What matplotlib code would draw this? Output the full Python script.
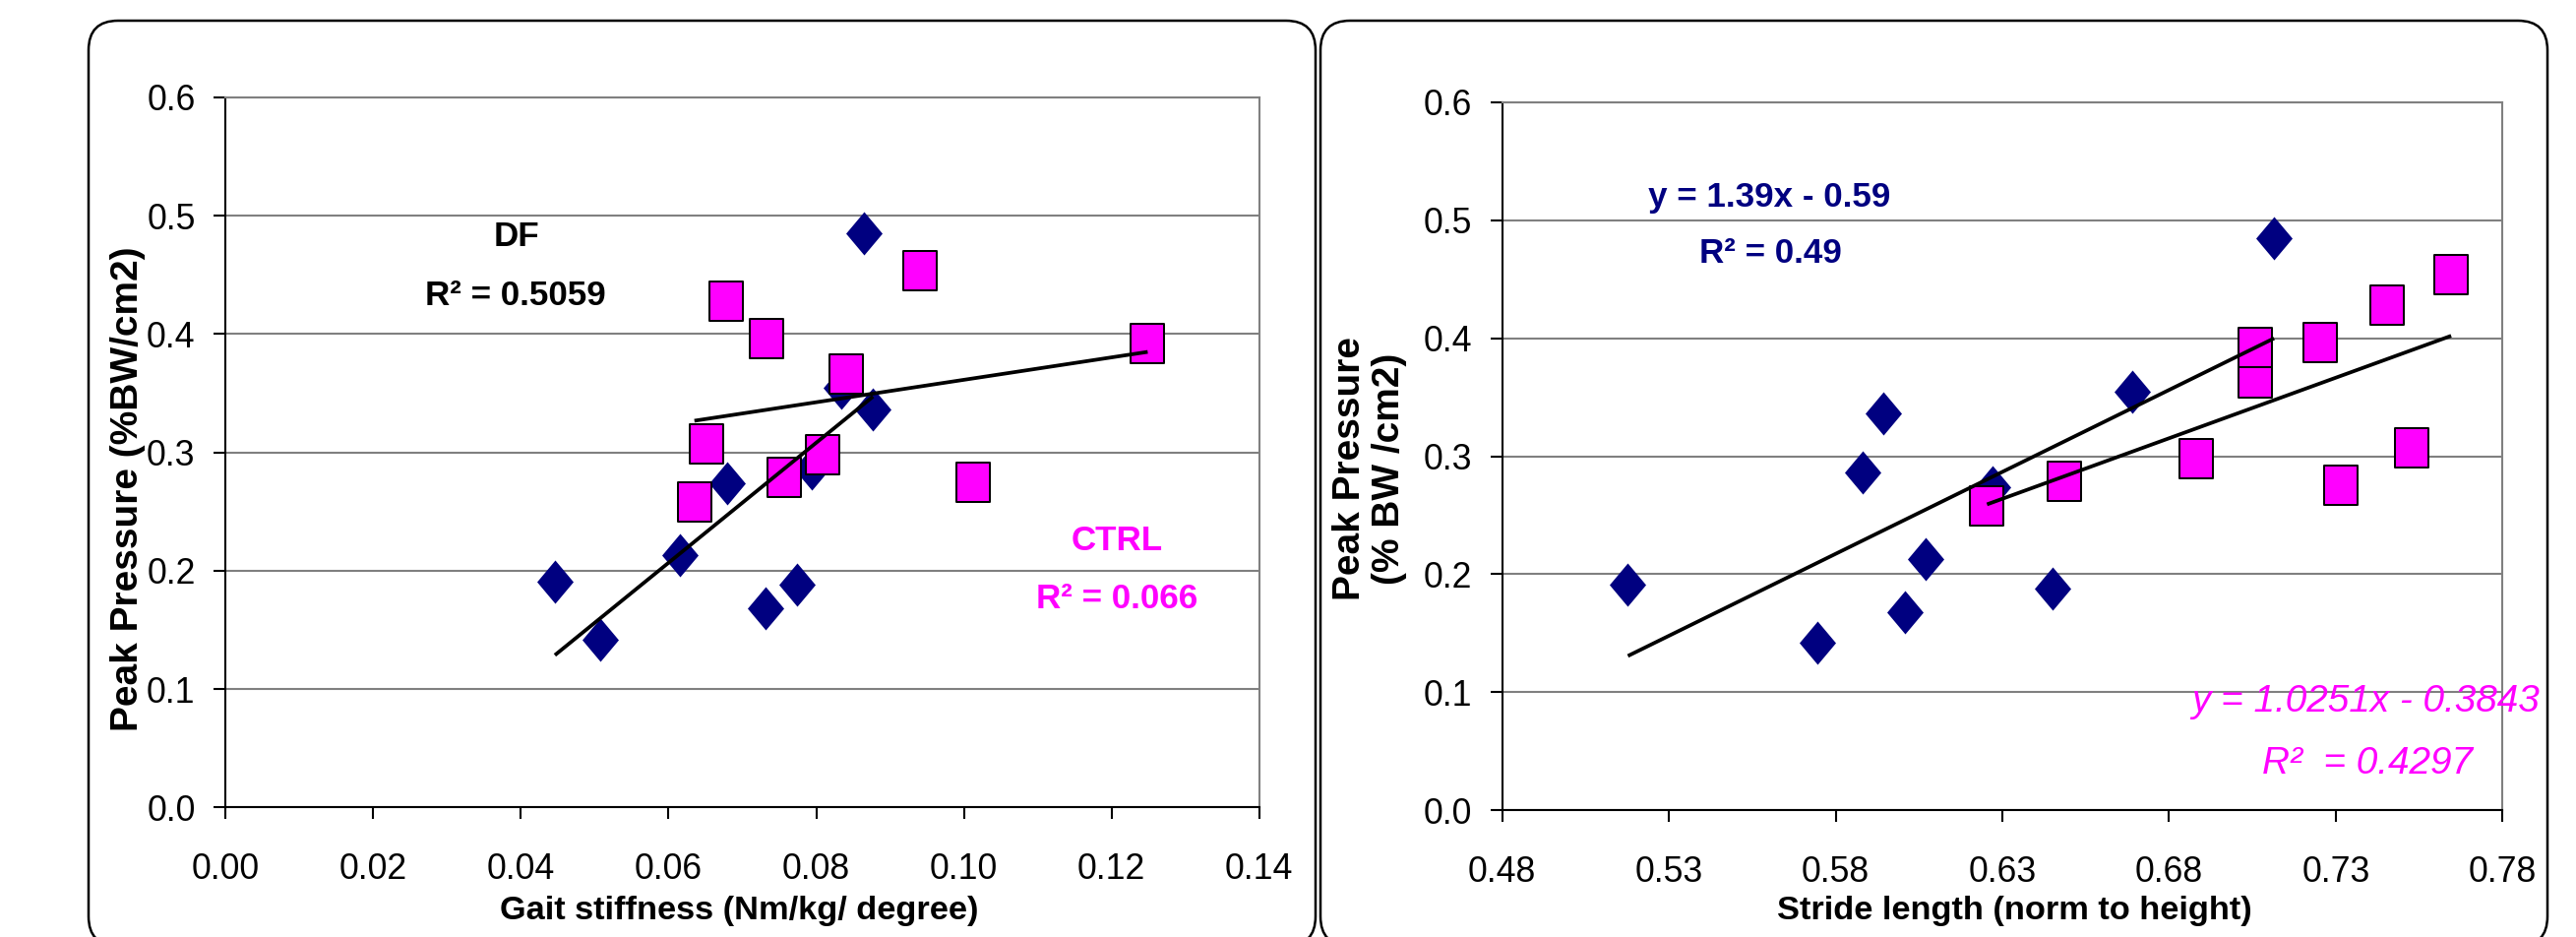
import os
import numpy as np
import matplotlib
matplotlib.use("Agg")
import matplotlib.pyplot as plt
from matplotlib import font_manager as fm
from matplotlib.font_manager import FontProperties
from matplotlib.patches import FancyBboxPatch
from matplotlib.path import Path

# ---------------- data ----------------
df_stiffness = [0.0446, 0.0508, 0.0616, 0.0680, 0.0731, 0.0774, 0.0794, 0.0834, 0.0877, 0.0865]
df_stride = [0.5177, 0.5745, 0.6069, 0.6270, 0.6009, 0.6451, 0.5882, 0.6690, 0.5942, 0.7115]
df_pressure = [0.191, 0.142, 0.213, 0.274, 0.168, 0.188, 0.286, 0.355, 0.336, 0.485]

ctrl_stiffness = [0.0678, 0.0733, 0.0941, 0.0841, 0.1249, 0.0651, 0.0635, 0.0757, 0.0808, 0.1013]
ctrl_stride = [0.7455, 0.7252, 0.7646, 0.7057, 0.7057, 0.7529, 0.6254, 0.6487, 0.6881, 0.7316]
ctrl_pressure = [0.428, 0.396, 0.454, 0.366, 0.392, 0.307, 0.258, 0.279, 0.298, 0.275]

stiff_ticks = [0.00, 0.02, 0.04, 0.06, 0.08, 0.10, 0.12, 0.14]
stride_ticks = [0.48, 0.53, 0.58, 0.63, 0.68, 0.73, 0.78]
pressure_ticks = [0.0, 0.1, 0.2, 0.3, 0.4, 0.5, 0.6]

left_xlabel = "Gait stiffness (Nm/kg/ degree)"
left_ylabel = "Peak Pressure (%BW/cm2)"
right_xlabel = "Stride length (norm to height)"
right_ylabel = "Peak Pressure\n(% BW /cm2)"

# ---------------- fonts ----------------
all_files = {}
for f in fm.fontManager.ttflist:
    all_files.setdefault(os.path.basename(f.fname), f.fname)
try:
    for p in fm.findSystemFonts():
        all_files.setdefault(os.path.basename(p), p)
except Exception:
    pass


def pick(cands):
    for c in cands:
        if c in all_files:
            return all_files[c]
    return None


REG = pick(["LiberationSansNarrow-Regular.ttf", "NotoSans-Condensed.ttf"])
BOLD = pick(["LiberationSansNarrow-Bold.ttf", "NotoSans-CondensedBold.ttf"])
ITAL = pick(["LiberationSansNarrow-Italic.ttf", "NotoSans-CondensedItalic.ttf"])


def fp(kind, size):
    path = {"reg": REG, "bold": BOLD, "ital": ITAL}[kind]
    if path:
        return FontProperties(fname=path, size=size)
    return FontProperties(family=["Liberation Sans", "DejaVu Sans"],
                          weight="bold" if kind == "bold" else "normal",
                          style="italic" if kind == "ital" else "normal",
                          size=size * 0.9)


WIDE_BOLD = FontProperties(family=["Liberation Sans", "DejaVu Sans"], weight="bold", size=28)

NAVY = "#000080"
MAGENTA = "#FF00FF"
GRID = "#808080"

W, H = 2618, 952
fig = plt.figure(figsize=(W / 100, H / 100), dpi=100)

# background (pixel coordinates)
bg = fig.add_axes([0, 0, 1, 1], zorder=0)
bg.set_xlim(0, W)
bg.set_ylim(H, 0)
bg.axis("off")
for x0, x1 in [(90, 1337), (1342, 2589)]:
    bg.add_patch(FancyBboxPatch((x0, 21), x1 - x0, 940,
                                boxstyle="round,pad=0,rounding_size=30",
                                fc="white", ec="black", lw=1.8))


def make_axes(x0, x1, y0, y1):
    ax = fig.add_axes([x0 / W, 1 - y1 / H, (x1 - x0) / W, (y1 - y0) / H], zorder=1)
    ax.patch.set_visible(False)
    ax._px = (x0, x1, y0, y1)
    return ax


def px_text(ax, x, y, s, prop, **kw):
    x0, x1, y0, y1 = ax._px
    ax.text((x - x0) / (x1 - x0), (y1 - y) / (y1 - y0), s, transform=ax.transAxes,
            ha="center", va="baseline", clip_on=False, fontproperties=prop, **kw)


diamond = Path([(0, 0.5), (0.42, 0), (0, -0.5), (-0.42, 0), (0, 0.5)],
               [Path.MOVETO, Path.LINETO, Path.LINETO, Path.LINETO, Path.CLOSEPOLY])
rect = Path([(-0.427, -0.5), (0.427, -0.5), (0.427, 0.5), (-0.427, 0.5), (-0.427, -0.5)],
            [Path.MOVETO, Path.LINETO, Path.LINETO, Path.LINETO, Path.CLOSEPOLY])


def style(ax, xticks, xfmt):
    ax.set_ylim(0, 0.6)
    ax.set_xlim(xticks[0], xticks[-1])
    ax.set_yticks(pressure_ticks)
    ax.set_yticklabels([f"{v:.1f}" for v in pressure_ticks])
    ax.set_xticks(xticks)
    ax.set_xticklabels([xfmt.format(v) for v in xticks])
    ax.grid(axis="y", color=GRID, lw=1.5)
    ax.set_axisbelow(True)
    for s in ["left", "bottom"]:
        ax.spines[s].set_color("black")
        ax.spines[s].set_linewidth(1.5)
    for s in ["top", "right"]:
        ax.spines[s].set_color(GRID)
        ax.spines[s].set_linewidth(1.5)
    ax.tick_params(direction="out", length=8.6, width=1.5, colors="black")
    ax.tick_params(axis="x", pad=24)
    ax.tick_params(axis="y", pad=13.5)
    for lbl in ax.get_xticklabels() + ax.get_yticklabels():
        lbl.set_fontproperties(fp("reg", 28.5))


def scatter_fit(ax, xd, yd, xc, yc):
    ax.plot(xd, yd, ls="none", marker=diamond, ms=31.7, mfc=NAVY, mec="none", zorder=3, clip_on=False)
    ax.plot(xc, yc, ls="none", marker=rect, ms=28.5, mfc=MAGENTA, mec="black", mew=1.44, zorder=4,
            clip_on=False)
    for xs, ys in [(xd, yd), (xc, yc)]:
        coef = np.polyfit(xs, ys, 1)
        xe = np.array([min(xs), max(xs)])
        ax.plot(xe, np.polyval(coef, xe), color="black", lw=2.7, zorder=5, solid_capstyle="butt")


# ---------------- left chart ----------------
ax1 = make_axes(229.3, 1279.7, 99, 820.3)
style(ax1, stiff_ticks, "{:.2f}")
scatter_fit(ax1, df_stiffness, df_pressure, ctrl_stiffness, ctrl_pressure)
ax1.set_xlabel(left_xlabel, fontproperties=fp("bold", 27.5), va="center")
ax1.xaxis.set_label_coords(0.4967, -0.1465)
ax1.set_ylabel(left_ylabel, fontproperties=WIDE_BOLD, va="center")
ax1.yaxis.set_label_coords(-0.0945, 0.448)
px_text(ax1, 525, 250, "DF", fp("bold", 28), color="black")
px_text(ax1, 523.5, 309.6, "R² = 0.5059", fp("bold", 28), color="black")
px_text(ax1, 1135, 559.3, "CTRL", fp("bold", 28), color=MAGENTA)
px_text(ax1, 1135, 618, "R² = 0.066", fp("bold", 28), color=MAGENTA)

# ---------------- right chart ----------------
ax2 = make_axes(1526.7, 2543.3, 103.7, 823.3)
style(ax2, stride_ticks, "{:.2f}")
scatter_fit(ax2, df_stride, df_pressure, ctrl_stride, ctrl_pressure)
ax2.set_xlabel(right_xlabel, fontproperties=fp("bold", 27.5), va="center")
ax2.xaxis.set_label_coords(0.5118, -0.1427)
ax2.set_ylabel(right_ylabel, fontproperties=WIDE_BOLD, va="center", linespacing=1.15)
ax2.yaxis.set_label_coords(-0.1325, 0.4826)
px_text(ax2, 1798, 210, "y = 1.39x - 0.59", fp("bold", 28), color=NAVY)
px_text(ax2, 1799, 267, "R² = 0.49", fp("bold", 28), color=NAVY)
px_text(ax2, 2404, 723, "y = 1.0251x - 0.3843", fp("ital", 31), color=MAGENTA)
px_text(ax2, 2406, 786, "R²  = 0.4297", fp("ital", 31), color=MAGENTA)

fig.savefig("out.png", dpi=100)
